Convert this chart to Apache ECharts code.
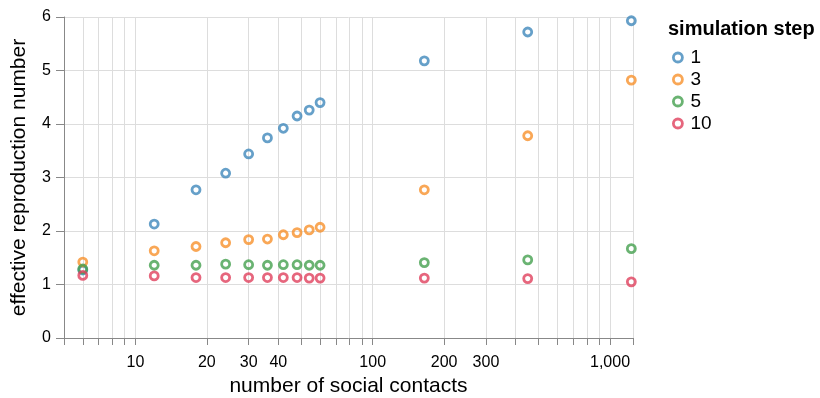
<!DOCTYPE html>
<html>
<head>
<meta charset="utf-8">
<script src="https://cdn.jsdelivr.net/npm/echarts@6/dist/echarts.min.js"></script>
<style>
html,body{margin:0;padding:0;background:#fff;}
#chart{width:820px;height:398px;}
</style>
</head>
<body>
<div id="chart"></div>
<script>
// number of social contacts (x)
const contacts = [6, 12, 18, 24, 30, 36, 42, 48, 54, 60, 165, 450, 1230];
// effective reproduction number per simulation step
const step1  = [1.27, 2.13, 2.77, 3.08, 3.44, 3.74, 3.92, 4.15, 4.26, 4.40, 5.18, 5.72, 5.93];
const step3  = [1.42, 1.63, 1.71, 1.78, 1.84, 1.85, 1.93, 1.97, 2.02, 2.07, 2.77, 3.78, 4.82];
const step5  = [1.29, 1.36, 1.36, 1.38, 1.37, 1.36, 1.37, 1.37, 1.36, 1.36, 1.41, 1.46, 1.67];
const step10 = [1.17, 1.16, 1.13, 1.13, 1.13, 1.13, 1.13, 1.13, 1.12, 1.12, 1.12, 1.11, 1.05];
const stepNames = ['1', '3', '5', '10'];
const stepValues = [step1, step3, step5, step10];
const colors = ['#4088bc', '#f7912c', '#45a04f', '#e0405d'];
const xTickValues = [5, 6, 7, 8, 9, 10, 20, 30, 40, 50, 60, 70, 80, 90, 100, 200, 300, 400, 500, 600, 700, 800, 900, 1000, 1250];
const xLabelValues = [10, 20, 30, 40, 100, 200, 300, 1000];
const yTicks = [0, 1, 2, 3, 4, 5, 6];

const font = 'Liberation Sans, Arial, Helvetica, sans-serif';
const chart = echarts.init(document.getElementById('chart'), null, {renderer: 'canvas'});

const series = stepNames.map((name, i) => ({
  name: name,
  type: 'scatter',
  symbol: 'circle',
  symbolSize: 8,
  itemStyle: {color: 'rgba(255,255,255,0)', borderColor: colors[i], borderWidth: 2.8},
  data: contacts.map((c, j) => [c, stepValues[i][j]]),
  z: 2 + i
}));

chart.setOption({
  animation: false,
  backgroundColor: '#fff',
  title: {
    text: 'simulation step',
    left: 663, top: 14,
    textStyle: {fontFamily: font, fontSize: 20, fontWeight: 'bold', color: '#000'}
  },
  legend: {
    orient: 'vertical',
    left: 667, top: 43,
    itemWidth: 9, itemHeight: 9, itemGap: 3,
    icon: 'circle',
    itemStyle: {borderWidth: 2.8},
    textStyle: {fontFamily: font, fontSize: 19, color: '#000', padding: [0, 0, 0, 3]},
    data: stepNames
  },
  grid: {left: 64, right: 187, top: 17, bottom: 60, containLabel: false, outerBoundsMode: 'none'},
  xAxis: {
    type: 'log',
    logBase: 10,
    min: 5, max: 1250,
    name: 'number of social contacts',
    nameLocation: 'middle',
    nameGap: 34,
    nameTextStyle: {fontFamily: font, fontSize: 21, color: '#000'},
    axisLine: {show: true, lineStyle: {color: '#888', width: 1}},
    axisTick: {show: true, length: 7, lineStyle: {color: '#888'}, customValues: xTickValues},
    axisLabel: {
      customValues: xLabelValues,
      fontFamily: font, fontSize: 16, color: '#000', margin: 17,
      formatter: v => Number(v).toLocaleString('en-US')
    },
    splitLine: {show: true, lineStyle: {color: '#ddd', width: 1}},
    minorTick: {show: false},
    minorSplitLine: {show: false}
  },
  yAxis: {
    type: 'value',
    min: 0, max: 6, interval: 1,
    name: 'effective reproduction number',
    nameLocation: 'middle',
    nameGap: 34,
    nameTextStyle: {fontFamily: font, fontSize: 21, color: '#000'},
    axisLine: {show: true, lineStyle: {color: '#888', width: 1}},
    axisTick: {show: true, length: 8, lineStyle: {color: '#888'}},
    axisLabel: {fontFamily: font, fontSize: 16, color: '#000', margin: 13,
      formatter: v => String(v)},
    splitLine: {show: true, lineStyle: {color: '#ddd', width: 1}}
  },
  series: series
});
</script>
</body>
</html>
